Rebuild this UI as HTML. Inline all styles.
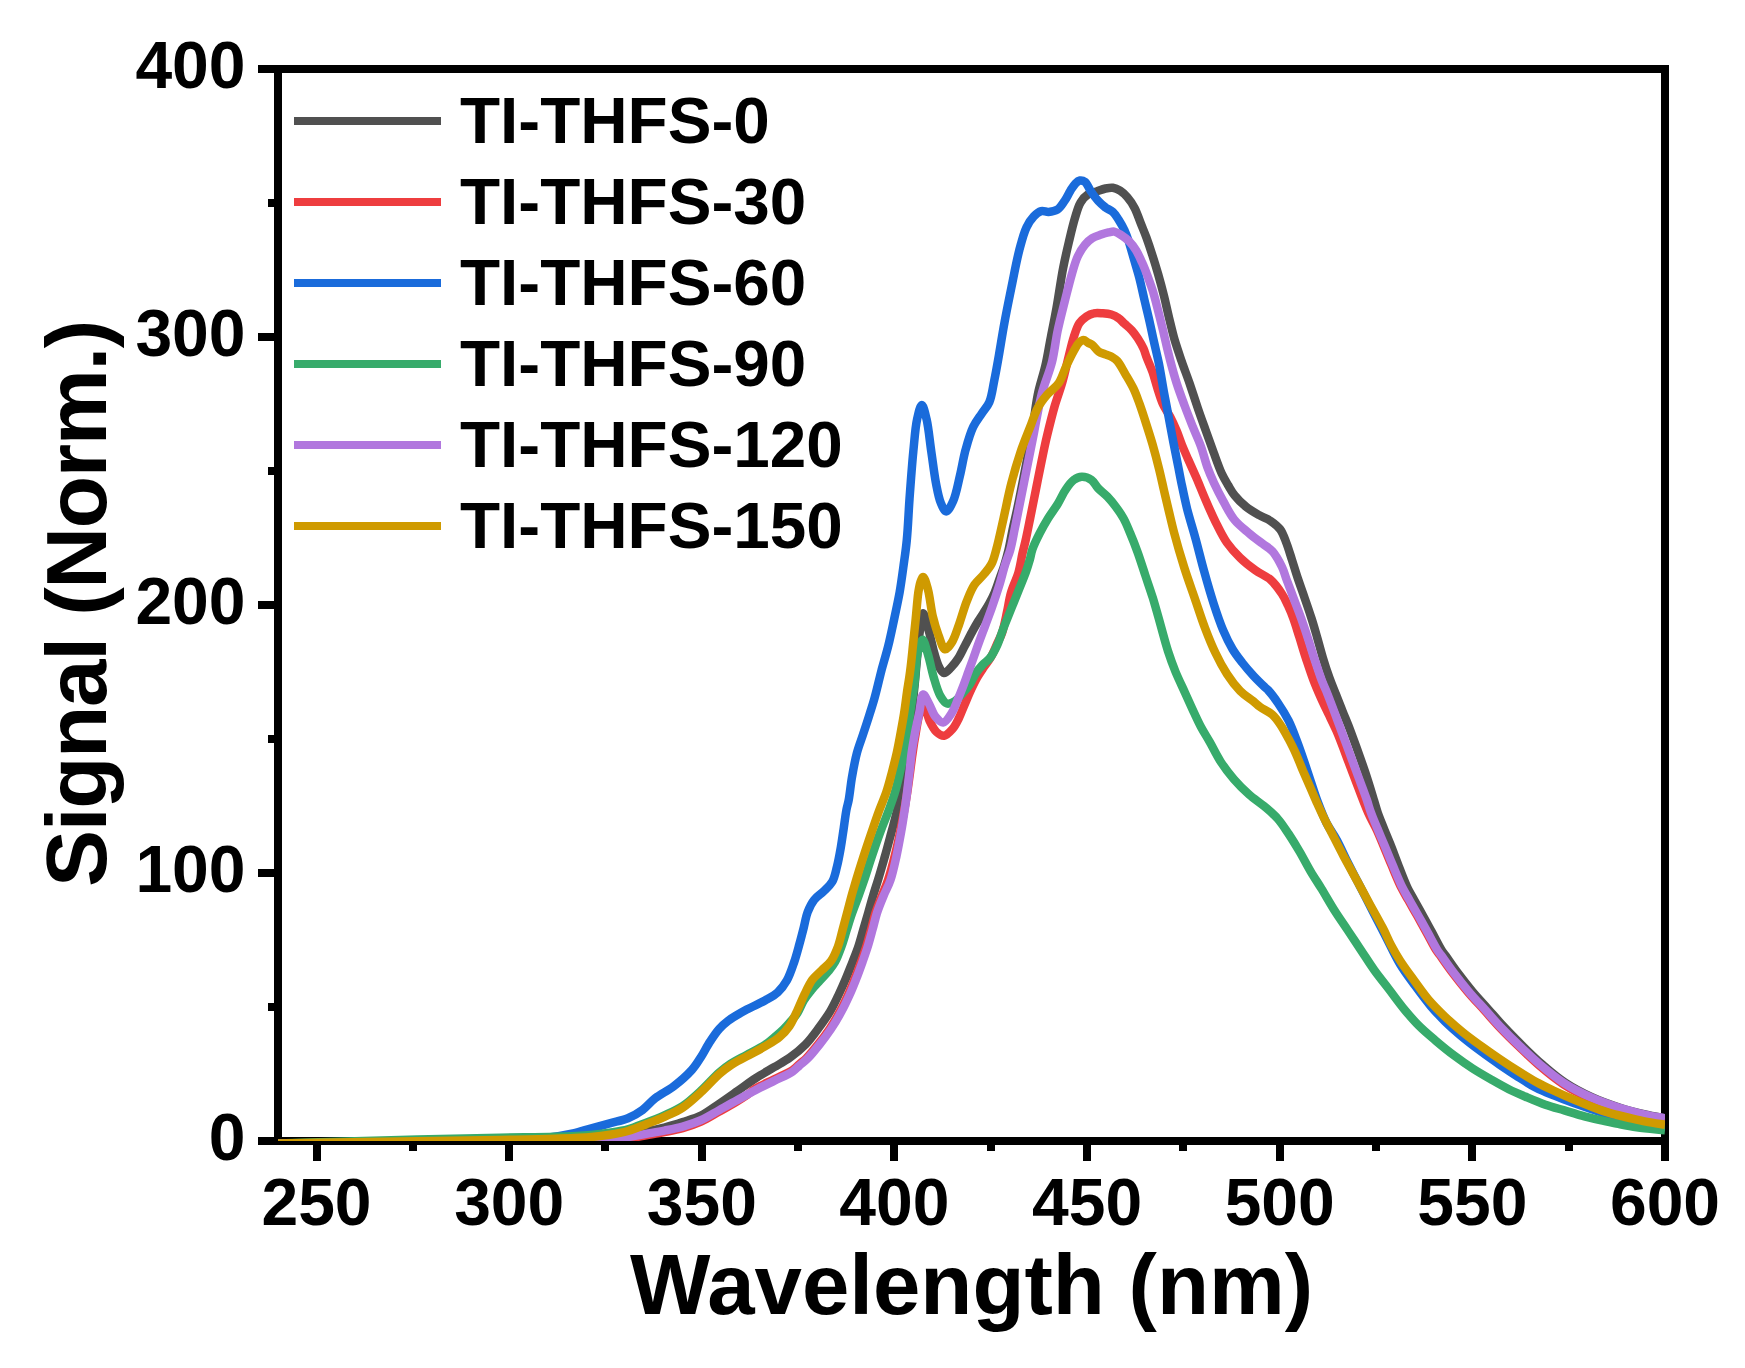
<!DOCTYPE html>
<html lang="en">
<head>
<meta charset="utf-8">
<title>Signal vs Wavelength</title>
<style>
html,body{margin:0;padding:0;background:#fff;}
svg{display:block;}
text{font-family:"Liberation Sans",Arial,Helvetica,sans-serif;font-weight:bold;fill:#000;}
</style>
</head>
<body>
<svg width="1745" height="1368" viewBox="0 0 1745 1368">
<rect x="0" y="0" width="1745" height="1368" fill="#ffffff"/>
<defs><clipPath id="plot"><rect x="278" y="69" width="1387" height="1072"/></clipPath></defs>
<g stroke="#000" stroke-width="8" fill="none" shape-rendering="crispEdges">
<rect x="278" y="69" width="1387" height="1072"/>
<line x1="258" y1="1141.0" x2="278" y2="1141.0"/>
<line x1="268" y1="1007.0" x2="278" y2="1007.0"/>
<line x1="258" y1="873.0" x2="278" y2="873.0"/>
<line x1="268" y1="739.0" x2="278" y2="739.0"/>
<line x1="258" y1="605.0" x2="278" y2="605.0"/>
<line x1="268" y1="471.0" x2="278" y2="471.0"/>
<line x1="258" y1="337.0" x2="278" y2="337.0"/>
<line x1="268" y1="203.0" x2="278" y2="203.0"/>
<line x1="258" y1="69.0" x2="278" y2="69.0"/>
<line x1="317.0" y1="1141" x2="317.0" y2="1161"/>
<line x1="413.0" y1="1141" x2="413.0" y2="1151"/>
<line x1="509.0" y1="1141" x2="509.0" y2="1161"/>
<line x1="605.0" y1="1141" x2="605.0" y2="1151"/>
<line x1="702.0" y1="1141" x2="702.0" y2="1161"/>
<line x1="798.0" y1="1141" x2="798.0" y2="1151"/>
<line x1="894.0" y1="1141" x2="894.0" y2="1161"/>
<line x1="991.0" y1="1141" x2="991.0" y2="1151"/>
<line x1="1087.0" y1="1141" x2="1087.0" y2="1161"/>
<line x1="1183.0" y1="1141" x2="1183.0" y2="1151"/>
<line x1="1280.0" y1="1141" x2="1280.0" y2="1161"/>
<line x1="1376.0" y1="1141" x2="1376.0" y2="1151"/>
<line x1="1472.0" y1="1141" x2="1472.0" y2="1161"/>
<line x1="1569.0" y1="1141" x2="1569.0" y2="1151"/>
<line x1="1665.0" y1="1141" x2="1665.0" y2="1161"/>
</g>
<g clip-path="url(#plot)" fill="none" stroke-width="8.5" stroke-linejoin="round" stroke-linecap="butt">
<path stroke="#505050" d="M278.0 1143.5 C352.0 1143.3 442.2 1143.9 500.0 1143.0 C537.1 1142.5 572.6 1141.9 591.4 1140.5 C599.8 1139.9 603.5 1139.1 609.6 1138.3 C615.7 1137.5 621.8 1136.6 627.9 1135.5 C634.0 1134.4 640.1 1132.8 646.2 1131.5 C652.3 1130.2 658.4 1129.1 664.4 1127.5 C670.5 1125.9 676.6 1124.0 682.7 1122.0 C688.8 1120.0 695.1 1118.5 701.0 1115.6 C707.3 1112.5 713.2 1107.8 719.3 1103.7 C725.4 1099.6 731.4 1095.3 737.5 1091.0 C743.6 1086.7 749.6 1082.1 755.8 1078.1 C761.8 1074.2 768.2 1070.7 774.1 1067.2 C779.6 1063.9 784.9 1061.2 790.0 1057.5 C795.3 1053.7 800.8 1049.3 805.5 1044.5 C810.1 1039.8 814.0 1034.4 818.0 1029.0 C822.1 1023.4 826.5 1017.4 830.0 1011.6 C833.3 1006.1 835.8 1000.5 838.5 995.0 C841.1 989.6 843.5 984.2 845.8 978.7 C848.1 973.2 850.3 967.5 852.5 962.0 C854.6 956.6 856.8 951.3 858.6 945.8 C860.4 940.3 861.9 934.5 863.5 929.0 C865.1 923.6 866.6 918.3 868.2 912.9 C869.8 907.3 871.3 901.5 873.0 896.0 C874.6 890.6 876.2 885.9 878.0 880.0 C880.2 872.8 882.7 864.0 885.0 856.0 C887.3 847.9 889.6 839.0 891.6 831.6 C893.2 825.5 894.7 820.4 896.0 815.0 C897.3 809.9 898.3 805.0 899.5 800.0 C900.7 795.0 902.1 790.2 903.0 785.0 C904.0 779.5 904.2 774.4 905.0 768.0 C906.1 759.8 907.8 749.4 909.0 740.0 C910.2 730.4 911.0 720.6 912.0 711.0 C913.0 701.6 913.9 692.3 914.8 683.0 C915.7 673.7 916.4 664.1 917.3 655.0 C918.1 646.4 918.9 637.5 920.0 630.0 C920.9 623.8 921.8 613.3 923.2 613.2 C924.7 613.1 927.1 624.9 928.9 631.3 C930.9 638.4 932.6 647.6 934.6 654.1 C936.1 659.2 937.4 664.0 939.3 667.4 C940.7 669.9 942.3 672.9 944.1 673.1 C946.1 673.3 948.8 669.7 951.0 667.5 C953.5 664.9 956.0 661.8 958.2 658.4 C960.7 654.6 962.7 649.8 965.0 645.5 C967.3 641.1 969.7 636.3 972.0 632.1 C974.0 628.3 976.0 624.9 978.0 621.5 C979.9 618.3 981.9 615.5 983.8 612.4 C985.7 609.3 987.7 606.3 989.5 603.0 C991.3 599.7 993.0 596.3 994.6 592.6 C996.4 588.4 997.9 583.5 999.5 579.0 C1001.0 574.7 1002.6 570.8 1004.0 566.3 C1005.6 561.2 1007.1 555.7 1008.5 550.0 C1010.0 543.7 1011.1 536.8 1012.5 530.0 C1014.0 523.0 1015.6 516.8 1017.3 508.6 C1019.6 497.8 1022.4 483.3 1024.9 470.6 C1027.3 457.9 1029.8 445.3 1032.0 432.6 C1034.1 420.0 1035.4 406.3 1037.8 394.6 C1039.9 384.3 1043.1 375.6 1045.3 366.0 C1047.5 356.5 1048.9 347.1 1050.8 337.5 C1052.7 327.8 1054.6 318.6 1056.5 308.0 C1058.7 295.7 1060.8 280.1 1063.1 268.2 C1065.0 258.5 1066.9 250.4 1068.9 241.9 C1070.8 233.9 1072.7 225.5 1074.8 218.5 C1076.6 212.6 1078.0 206.6 1080.6 202.4 C1082.7 199.0 1085.2 196.2 1088.0 194.4 C1090.6 192.7 1093.8 192.4 1096.7 191.4 C1099.6 190.4 1102.7 189.1 1105.5 188.5 C1108.0 188.0 1110.4 187.5 1112.8 187.8 C1115.3 188.2 1117.8 189.3 1120.1 190.7 C1122.7 192.3 1125.1 194.7 1127.4 197.3 C1130.0 200.3 1132.6 204.2 1134.7 208.2 C1137.0 212.6 1138.6 218.0 1140.6 222.9 C1142.5 227.8 1144.5 232.4 1146.4 237.5 C1148.4 243.0 1150.4 249.0 1152.3 255.0 C1154.3 261.2 1156.2 267.4 1158.1 274.0 C1160.1 281.0 1162.2 288.7 1164.0 296.0 C1165.8 303.3 1167.3 310.6 1169.1 317.9 C1170.9 325.2 1172.5 332.6 1174.6 339.8 C1176.7 346.9 1179.1 353.8 1181.5 360.9 C1184.0 368.3 1187.0 375.8 1189.6 383.4 C1192.3 391.3 1194.9 399.6 1197.6 407.5 C1200.2 415.2 1202.9 422.6 1205.6 430.1 C1208.3 437.6 1211.0 445.3 1213.7 452.6 C1216.3 459.7 1219.0 467.6 1221.7 473.5 C1223.8 478.0 1225.8 481.3 1228.0 485.0 C1230.1 488.5 1231.8 491.9 1234.5 495.2 C1237.6 499.1 1241.8 503.3 1245.9 506.6 C1250.0 509.9 1254.9 512.7 1259.2 515.2 C1263.1 517.4 1267.1 518.5 1270.6 520.9 C1274.1 523.3 1277.6 525.9 1280.2 529.4 C1282.9 533.1 1284.4 537.9 1286.3 542.7 C1288.4 548.0 1290.1 554.1 1292.0 560.0 C1294.0 566.2 1295.9 572.6 1298.0 578.9 C1300.2 585.4 1302.6 591.9 1304.8 598.5 C1307.1 605.1 1309.4 611.8 1311.5 618.4 C1313.6 624.9 1315.4 631.4 1317.3 638.0 C1319.2 644.6 1320.9 651.3 1322.9 657.9 C1324.9 664.6 1327.3 671.9 1329.5 678.0 C1331.3 683.1 1333.0 687.0 1335.0 692.0 C1337.3 697.9 1339.9 704.6 1342.5 711.0 C1345.1 717.6 1347.5 723.0 1350.5 730.9 C1354.7 742.1 1360.9 759.5 1365.1 771.9 C1368.5 782.1 1371.6 792.4 1373.9 800.0 C1375.5 805.1 1376.2 808.3 1377.8 812.8 C1379.7 818.1 1382.4 824.6 1384.5 830.0 C1386.5 834.9 1388.2 838.8 1390.2 843.9 C1392.7 850.1 1395.4 857.6 1398.2 864.7 C1401.1 872.2 1404.5 881.3 1407.5 887.7 C1409.8 892.5 1411.8 895.6 1414.2 900.0 C1417.0 905.0 1420.2 910.7 1423.1 916.0 C1426.0 921.2 1428.7 926.2 1431.6 931.6 C1434.8 937.5 1438.9 945.8 1441.5 950.0 C1443.0 952.4 1443.7 953.0 1445.4 955.3 C1448.4 959.5 1453.5 967.2 1458.0 973.1 C1462.6 979.2 1467.4 985.4 1472.4 991.4 C1477.6 997.6 1483.3 1003.6 1488.7 1009.7 C1494.1 1015.8 1499.4 1022.0 1505.0 1028.0 C1510.8 1034.1 1516.7 1040.2 1522.9 1046.2 C1529.1 1052.4 1535.4 1058.5 1542.3 1064.5 C1549.6 1070.8 1557.1 1077.4 1565.4 1082.8 C1573.8 1088.4 1583.2 1093.2 1592.3 1097.4 C1601.1 1101.4 1610.1 1104.6 1619.2 1107.5 C1628.1 1110.4 1638.0 1112.8 1646.2 1114.7 C1653.0 1116.3 1658.7 1117.1 1665.0 1118.3"/>
<path stroke="#ee3d3f" d="M278.0 1143.5 C352.0 1143.5 442.2 1143.8 500.0 1143.5 C537.1 1143.3 572.6 1143.5 591.4 1142.5 C599.8 1142.1 603.5 1141.5 609.6 1140.8 C615.7 1140.1 621.8 1139.4 627.9 1138.5 C634.0 1137.6 640.1 1136.5 646.2 1135.4 C652.3 1134.3 658.3 1133.3 664.4 1132.1 C670.5 1130.9 676.7 1129.8 682.7 1128.1 C688.9 1126.4 695.0 1124.4 701.0 1121.7 C707.2 1118.9 713.2 1115.0 719.3 1111.6 C725.4 1108.1 732.4 1104.1 737.5 1101.0 C741.2 1098.8 743.9 1097.1 747.0 1095.0 C750.0 1092.9 752.2 1090.7 755.8 1088.5 C760.7 1085.5 768.0 1082.4 774.1 1079.4 C780.2 1076.3 787.8 1073.3 792.4 1070.2 C795.5 1068.1 797.2 1065.9 799.6 1063.9 C801.8 1062.0 803.7 1060.9 806.1 1058.5 C809.6 1055.0 814.1 1049.4 818.0 1044.5 C822.0 1039.5 825.9 1034.4 829.5 1029.0 C833.2 1023.5 836.8 1017.4 839.9 1011.6 C842.9 1006.1 845.5 1000.5 848.0 995.0 C850.5 989.6 852.6 984.2 854.8 978.7 C857.0 973.2 859.0 967.5 861.0 962.0 C862.9 956.6 864.8 951.3 866.5 945.8 C868.2 940.3 869.7 934.5 871.2 929.0 C872.7 923.6 873.8 918.3 875.5 912.9 C877.3 907.3 879.7 901.5 881.8 896.0 C883.9 890.6 886.0 885.9 888.0 880.0 C890.4 872.9 892.7 864.1 894.7 856.0 C896.8 847.9 898.6 839.4 900.2 831.6 C901.7 824.5 902.9 817.7 904.1 811.0 C905.3 804.6 906.3 798.5 907.3 792.1 C908.3 785.5 909.2 778.6 910.1 772.0 C911.0 765.5 911.7 759.1 912.7 752.6 C913.6 746.1 914.6 739.5 915.8 733.0 C916.9 726.4 917.9 718.2 919.7 713.2 C920.9 709.9 922.6 705.4 924.0 705.5 C925.9 705.7 927.3 716.0 929.5 720.6 C931.5 724.8 933.7 729.4 936.5 732.0 C938.7 734.0 941.6 736.1 944.1 735.8 C946.9 735.5 950.1 731.7 952.5 729.0 C955.0 726.2 956.7 722.6 958.5 719.0 C960.5 715.0 962.1 710.4 964.0 706.0 C966.0 701.4 967.9 696.6 970.0 692.0 C972.1 687.4 974.4 682.5 976.8 678.2 C979.1 674.2 981.6 670.6 984.0 667.0 C986.3 663.5 988.9 660.7 991.0 657.0 C993.3 653.0 995.1 648.2 997.0 644.0 C998.7 640.2 1000.5 637.3 1002.0 633.0 C1004.0 627.2 1005.5 618.9 1007.0 612.0 C1008.5 605.4 1009.1 599.1 1011.0 592.6 C1012.9 585.8 1016.6 579.0 1018.5 572.3 C1020.3 565.9 1021.2 559.1 1022.5 553.3 C1023.6 548.5 1024.6 545.0 1025.7 540.0 C1027.1 533.6 1028.6 525.9 1030.2 518.1 C1032.0 509.2 1034.0 499.1 1035.9 489.6 C1037.8 480.1 1039.7 470.3 1041.6 461.1 C1043.4 452.5 1044.9 444.7 1047.0 436.0 C1049.3 426.4 1052.0 415.5 1054.7 406.0 C1057.2 397.4 1060.2 389.8 1062.5 381.5 C1064.9 373.1 1066.8 363.9 1068.8 356.0 C1070.5 349.2 1071.9 342.8 1073.8 337.0 C1075.5 332.0 1077.0 326.8 1079.4 323.2 C1081.4 320.3 1084.0 318.1 1086.5 316.4 C1088.8 314.9 1091.2 313.8 1093.8 313.3 C1096.5 312.7 1099.7 313.1 1102.6 313.3 C1105.5 313.5 1108.6 313.7 1111.3 314.5 C1113.9 315.3 1116.5 316.6 1118.7 318.2 C1120.9 319.7 1122.4 321.8 1124.5 323.7 C1126.8 325.8 1129.6 327.9 1131.8 330.3 C1134.1 332.8 1136.0 335.6 1137.9 338.5 C1139.9 341.6 1142.0 345.3 1143.5 348.6 C1144.8 351.5 1145.3 353.8 1146.5 357.0 C1148.1 361.3 1150.8 367.0 1152.6 372.2 C1154.4 377.4 1155.7 382.9 1157.4 388.2 C1159.1 393.6 1160.8 399.4 1163.0 404.3 C1165.0 408.8 1167.8 412.2 1170.0 416.5 C1172.4 421.1 1174.7 426.2 1176.7 431.0 C1178.7 435.7 1180.1 440.4 1182.0 445.0 C1183.9 449.7 1185.8 454.0 1188.0 459.0 C1190.6 464.9 1193.6 471.4 1196.5 478.0 C1199.6 485.3 1202.8 493.5 1206.0 500.9 C1209.1 508.1 1212.1 514.9 1215.5 521.8 C1219.0 528.8 1222.6 536.5 1226.9 542.7 C1230.9 548.4 1235.4 553.3 1240.2 557.9 C1244.9 562.5 1250.2 566.6 1255.4 570.3 C1260.4 573.9 1266.2 575.9 1270.6 579.8 C1275.1 583.8 1279.0 589.4 1282.0 594.0 C1284.6 597.9 1286.1 601.5 1288.0 605.5 C1289.9 609.6 1291.6 613.6 1293.3 618.4 C1295.4 624.1 1297.4 631.0 1299.5 637.5 C1301.6 644.2 1303.5 651.0 1305.8 657.9 C1308.2 665.1 1310.8 673.2 1313.4 680.0 C1315.7 686.1 1318.0 691.4 1320.5 697.0 C1323.0 702.7 1325.8 708.3 1328.5 714.0 C1331.2 719.6 1333.5 724.0 1336.5 730.9 C1341.1 741.5 1347.0 758.2 1352.3 771.9 C1357.6 785.5 1363.5 802.2 1368.2 812.8 C1371.3 819.8 1374.3 824.5 1376.8 830.0 C1379.0 834.8 1380.6 838.8 1382.7 843.9 C1385.3 850.1 1388.3 857.6 1391.3 864.7 C1394.5 872.2 1398.1 881.3 1401.3 887.7 C1403.7 892.5 1405.7 895.6 1408.2 900.0 C1411.0 905.0 1414.3 910.7 1417.3 916.0 C1420.2 921.2 1423.0 926.2 1426.0 931.6 C1429.3 937.5 1433.4 945.8 1436.1 950.0 C1437.6 952.4 1438.3 953.0 1440.0 955.3 C1443.0 959.5 1448.3 967.2 1452.8 973.1 C1457.4 979.2 1462.3 985.4 1467.4 991.4 C1472.6 997.6 1478.3 1003.6 1483.8 1009.7 C1489.3 1015.8 1494.6 1022.0 1500.3 1028.0 C1506.2 1034.2 1512.2 1040.1 1518.6 1046.2 C1525.4 1052.7 1532.5 1059.7 1539.9 1066.0 C1547.4 1072.4 1555.2 1078.9 1563.6 1084.3 C1572.2 1089.9 1581.8 1094.7 1591.1 1098.9 C1600.1 1102.9 1609.3 1106.1 1618.5 1109.0 C1627.6 1111.9 1637.6 1114.4 1645.9 1116.3 C1652.8 1117.9 1658.6 1118.7 1665.0 1119.9"/>
<path stroke="#1a6bdb" d="M278.0 1143.5 C318.7 1143.2 361.4 1143.1 400.0 1142.5 C435.0 1141.9 473.1 1140.9 500.0 1140.0 C518.2 1139.4 532.5 1139.4 545.7 1138.0 C556.0 1136.9 564.8 1135.3 573.0 1133.5 C579.8 1132.0 585.3 1130.0 591.4 1128.3 C597.5 1126.6 603.5 1125.0 609.6 1123.3 C615.7 1121.6 622.3 1120.6 627.9 1118.3 C633.2 1116.1 638.0 1113.3 642.5 1110.0 C647.1 1106.6 650.5 1101.9 655.3 1098.2 C660.7 1094.0 667.7 1090.9 673.6 1086.4 C679.9 1081.6 687.1 1075.3 691.9 1069.9 C695.8 1065.6 698.1 1061.6 701.0 1057.0 C704.1 1052.2 706.8 1046.4 710.0 1041.6 C713.0 1037.1 716.0 1032.4 719.3 1028.8 C722.2 1025.6 724.7 1023.4 728.4 1020.6 C733.3 1017.0 740.5 1013.0 746.7 1009.6 C752.7 1006.3 759.5 1003.6 765.0 1000.5 C769.7 997.8 774.0 995.7 777.7 992.3 C781.3 989.0 784.3 985.0 786.9 980.4 C789.9 975.1 792.1 968.1 794.2 962.0 C796.2 956.1 797.7 950.3 799.3 944.5 C800.9 938.8 802.4 932.9 803.8 927.4 C805.1 922.2 805.8 916.9 807.6 912.2 C809.3 907.7 811.4 903.3 814.2 899.8 C816.8 896.4 820.7 894.3 823.7 891.3 C826.7 888.3 830.1 885.5 832.3 881.7 C834.7 877.4 835.6 871.9 837.0 866.5 C838.5 860.6 839.7 853.8 840.8 847.5 C841.9 841.2 842.7 834.8 843.7 828.5 C844.6 822.2 845.5 814.7 846.5 809.5 C847.2 805.8 848.0 803.9 848.7 800.0 C849.8 794.1 850.6 785.3 851.9 777.6 C853.3 769.5 854.9 760.4 857.0 752.6 C858.9 745.6 861.4 739.6 863.5 733.0 C865.7 726.4 868.0 719.4 869.9 713.2 C871.6 707.8 873.0 703.8 874.6 697.9 C876.8 690.2 879.1 679.6 881.4 670.7 C883.7 662.1 886.3 653.9 888.4 645.3 C890.5 636.6 892.3 627.8 894.2 619.0 C896.1 610.2 898.0 601.4 899.6 592.6 C901.1 583.8 902.3 574.8 903.5 566.0 C904.7 557.3 905.9 549.7 906.8 540.0 C908.0 527.9 908.5 513.2 909.5 499.1 C910.6 483.9 911.9 465.9 913.3 451.6 C914.5 439.8 915.2 427.8 917.1 419.3 C918.4 413.5 920.2 405.0 921.8 405.0 C923.4 405.0 925.2 413.5 926.6 419.3 C928.6 427.8 929.7 440.8 931.3 451.6 C932.9 462.4 934.3 474.6 936.1 483.9 C937.5 491.1 938.7 497.9 940.8 502.9 C942.3 506.5 944.3 511.5 946.2 511.5 C948.4 511.5 951.2 505.4 953.2 501.0 C956.1 494.7 957.8 484.7 959.8 476.3 C961.9 467.6 963.3 458.2 965.6 449.7 C967.8 441.7 970.1 433.3 973.2 426.9 C975.7 421.7 978.9 417.8 981.7 413.6 C984.3 409.6 987.3 406.8 989.3 402.2 C991.8 396.5 992.6 388.6 994.1 381.3 C995.8 373.3 997.2 365.0 998.8 356.0 C1000.6 345.6 1002.4 333.8 1004.5 322.5 C1006.6 310.8 1009.1 298.9 1011.5 287.0 C1014.0 274.9 1016.4 261.3 1019.2 250.6 C1021.5 241.9 1023.5 233.5 1026.5 227.3 C1028.7 222.8 1031.2 219.1 1033.9 216.3 C1036.1 214.0 1038.6 211.9 1041.2 211.2 C1043.5 210.6 1046.0 212.1 1048.5 211.9 C1051.3 211.7 1054.7 211.3 1057.3 209.7 C1060.2 207.9 1062.4 204.0 1064.6 200.9 C1066.8 197.7 1068.5 193.8 1070.4 190.7 C1072.1 188.0 1073.7 185.2 1075.5 183.4 C1076.9 182.0 1078.3 180.8 1079.9 180.5 C1081.5 180.2 1083.4 180.7 1085.0 181.9 C1087.3 183.6 1088.7 188.3 1090.9 191.4 C1093.1 194.6 1095.6 198.1 1098.2 200.9 C1100.5 203.4 1103.0 205.6 1105.5 207.5 C1107.9 209.2 1110.7 210.0 1112.8 211.9 C1115.1 214.0 1116.8 217.0 1118.7 219.9 C1120.7 223.1 1122.8 226.6 1124.5 230.2 C1126.2 233.9 1127.5 237.6 1128.9 241.9 C1130.6 247.1 1132.3 253.6 1134.0 259.4 C1135.7 265.3 1137.5 270.8 1139.1 277.0 C1140.9 283.9 1142.5 291.6 1144.2 298.9 C1145.9 306.2 1147.8 313.6 1149.4 320.8 C1151.0 327.8 1152.3 334.5 1153.9 341.5 C1155.5 348.9 1157.4 356.2 1159.0 364.1 C1160.7 372.8 1162.2 382.5 1163.8 391.5 C1165.4 400.2 1167.1 408.6 1168.7 417.2 C1170.3 425.8 1171.9 434.5 1173.5 442.9 C1175.1 451.1 1176.9 460.0 1178.3 467.0 C1179.3 472.3 1179.9 475.6 1181.0 481.0 C1182.6 488.6 1184.7 499.1 1187.0 508.5 C1189.5 518.4 1192.8 528.6 1195.6 538.9 C1198.5 549.5 1201.1 560.5 1204.1 571.2 C1207.1 582.0 1210.3 593.3 1213.6 603.5 C1216.6 612.8 1219.7 622.1 1223.1 630.1 C1226.1 637.1 1229.2 643.5 1232.6 649.2 C1235.6 654.2 1238.7 658.1 1242.1 662.5 C1245.6 667.0 1249.6 671.6 1253.5 675.8 C1257.2 679.8 1262.3 684.7 1264.9 687.2 C1266.2 688.5 1266.7 688.6 1268.0 690.0 C1270.5 692.7 1274.9 698.5 1278.2 703.3 C1281.8 708.6 1285.5 714.5 1288.6 720.7 C1291.8 727.1 1294.4 734.3 1297.0 741.2 C1299.6 748.0 1301.9 754.8 1304.2 761.6 C1306.5 768.4 1308.7 775.3 1311.0 782.1 C1313.3 788.9 1315.4 795.8 1318.0 802.6 C1320.6 809.5 1323.3 816.6 1326.5 823.0 C1329.6 829.0 1333.5 833.9 1336.8 840.0 C1340.5 846.8 1343.7 854.5 1347.5 862.0 C1351.6 870.1 1356.2 878.9 1360.4 887.0 C1364.4 894.7 1368.0 901.9 1372.0 909.7 C1376.2 917.9 1380.5 926.3 1385.0 935.0 C1389.8 944.3 1394.7 955.3 1400.0 964.1 C1404.7 972.0 1409.8 978.5 1415.0 985.5 C1420.2 992.6 1425.7 1000.1 1431.0 1006.4 C1435.7 1011.9 1440.2 1016.6 1445.0 1021.4 C1449.8 1026.1 1454.5 1030.3 1460.0 1035.0 C1466.3 1040.3 1474.1 1046.3 1481.0 1051.4 C1487.4 1056.2 1493.7 1060.6 1500.0 1064.9 C1506.0 1069.0 1512.0 1073.0 1518.0 1076.8 C1524.0 1080.6 1529.8 1084.6 1536.0 1087.8 C1542.1 1091.0 1548.7 1093.4 1555.0 1095.9 C1561.1 1098.4 1567.0 1100.6 1573.0 1102.8 C1579.0 1104.9 1584.9 1106.9 1591.0 1109.0 C1597.2 1111.0 1603.7 1113.3 1610.0 1115.1 C1616.0 1116.8 1622.0 1118.1 1628.0 1119.4 C1634.0 1120.8 1639.9 1122.2 1646.0 1123.3 C1652.2 1124.4 1658.7 1125.2 1665.0 1126.2"/>
<path stroke="#37ab6b" d="M278.0 1143.5 C318.7 1142.3 361.4 1141.0 400.0 1140.0 C435.0 1139.1 471.6 1138.3 500.0 1137.7 C521.0 1137.3 538.4 1137.3 554.8 1136.8 C568.2 1136.4 581.3 1135.9 591.4 1135.0 C598.5 1134.4 603.5 1133.7 609.6 1132.8 C615.7 1131.8 621.9 1131.0 627.9 1129.3 C634.1 1127.6 640.1 1125.0 646.2 1122.7 C652.3 1120.4 658.4 1118.0 664.4 1115.3 C670.5 1112.5 676.8 1110.0 682.7 1106.1 C689.1 1101.9 695.0 1096.2 701.0 1090.7 C707.2 1085.0 713.8 1077.3 719.3 1072.5 C723.3 1069.0 726.1 1066.8 730.2 1064.1 C735.0 1060.9 741.1 1058.0 746.7 1054.9 C752.6 1051.6 759.8 1048.4 765.0 1044.9 C769.3 1042.0 772.7 1038.8 776.0 1036.0 C778.9 1033.6 781.3 1031.5 783.8 1029.0 C786.3 1026.5 788.7 1023.7 791.0 1021.0 C793.3 1018.4 795.5 1016.1 797.5 1013.0 C799.9 1009.3 801.6 1003.9 804.0 1000.0 C806.2 996.4 808.8 993.3 811.4 990.1 C814.1 986.8 817.1 983.7 820.0 980.5 C822.8 977.3 825.9 974.3 828.5 971.1 C830.9 968.1 833.0 965.6 835.0 962.0 C837.5 957.5 839.7 951.3 841.7 945.8 C843.7 940.3 845.2 934.5 847.0 929.0 C848.7 923.6 850.3 918.3 852.2 912.9 C854.1 907.3 856.5 901.6 858.5 896.0 C860.5 890.6 862.2 885.9 864.2 880.0 C866.6 872.8 869.3 864.0 872.0 856.0 C874.7 847.9 877.6 839.4 880.5 831.6 C883.1 824.4 886.0 817.7 888.5 811.0 C890.8 804.6 893.1 798.5 895.0 792.1 C896.9 785.5 898.5 778.7 900.0 772.0 C901.5 765.5 903.0 759.1 904.2 752.6 C905.4 746.1 906.3 739.6 907.3 733.0 C908.3 726.4 909.0 720.5 910.1 713.2 C911.4 704.1 913.4 692.6 914.6 682.6 C915.8 672.9 915.7 661.9 917.5 654.1 C918.8 648.4 920.9 639.8 922.6 639.8 C924.3 639.8 926.2 648.7 927.9 654.1 C930.0 660.8 931.4 669.7 933.6 676.9 C935.6 683.6 937.6 691.2 940.3 695.9 C942.2 699.2 944.3 702.8 946.9 703.5 C949.3 704.2 952.6 702.5 955.0 701.0 C957.6 699.4 959.7 696.6 962.0 694.0 C964.6 691.2 967.4 688.1 969.7 684.7 C972.1 681.1 973.7 676.4 976.0 673.0 C978.0 670.0 980.2 667.5 982.5 665.0 C984.8 662.5 987.7 660.9 990.0 658.0 C992.7 654.6 995.1 649.9 997.2 645.3 C999.5 640.4 1000.9 634.9 1003.0 629.4 C1005.3 623.3 1008.1 616.7 1010.6 610.3 C1013.1 604.0 1015.7 597.6 1018.2 591.3 C1020.7 585.0 1023.7 578.1 1025.8 572.3 C1027.5 567.5 1028.8 563.1 1030.0 559.0 C1031.0 555.4 1031.2 552.6 1032.5 549.0 C1034.2 544.3 1037.1 538.4 1039.7 533.3 C1042.3 528.2 1045.0 523.4 1048.0 518.5 C1051.0 513.6 1054.7 508.9 1057.7 504.0 C1060.6 499.3 1062.8 493.8 1065.7 489.6 C1068.2 485.9 1070.8 482.1 1073.8 479.9 C1076.3 478.1 1079.0 476.8 1081.8 476.7 C1084.9 476.6 1088.8 478.0 1091.5 479.9 C1094.2 481.8 1095.4 485.3 1097.9 488.0 C1100.7 491.0 1104.5 493.7 1107.5 496.8 C1110.4 499.9 1113.0 503.0 1115.6 506.5 C1118.4 510.2 1121.2 514.2 1123.6 518.5 C1126.1 523.0 1127.9 527.8 1130.1 533.0 C1132.6 538.9 1135.2 545.5 1137.6 552.2 C1140.2 559.4 1142.7 567.4 1145.2 575.0 C1147.7 582.6 1150.3 589.9 1152.8 597.8 C1155.4 606.3 1157.9 615.5 1160.4 624.4 C1162.9 633.3 1165.3 642.8 1168.0 651.1 C1170.4 658.5 1172.8 665.1 1175.6 672.0 C1178.5 679.0 1181.9 685.9 1185.1 692.9 C1188.3 699.9 1191.7 707.6 1194.6 713.8 C1196.9 718.7 1198.6 722.5 1201.0 727.0 C1203.6 731.9 1206.7 736.6 1209.7 741.9 C1213.2 748.0 1216.6 755.4 1220.7 761.7 C1224.7 767.9 1229.1 773.7 1233.9 779.2 C1238.6 784.7 1243.9 789.9 1249.2 794.6 C1254.2 799.0 1259.8 802.5 1264.6 806.6 C1269.2 810.5 1273.7 814.2 1277.7 818.7 C1281.8 823.3 1285.1 828.7 1288.7 834.0 C1292.4 839.6 1296.0 845.5 1299.6 851.6 C1303.3 857.9 1306.9 865.0 1310.6 871.3 C1314.2 877.4 1317.8 882.7 1321.6 888.9 C1325.8 895.8 1330.2 903.7 1334.7 910.8 C1339.0 917.6 1343.5 923.9 1347.9 930.5 C1352.3 937.1 1356.7 943.7 1361.1 950.3 C1365.5 956.9 1369.7 963.7 1374.2 970.0 C1378.6 976.2 1383.2 981.7 1388.0 988.0 C1393.3 994.9 1399.1 1003.1 1404.6 1009.7 C1409.5 1015.6 1414.0 1020.9 1419.2 1026.1 C1424.4 1031.3 1430.0 1035.9 1435.7 1040.7 C1441.6 1045.7 1447.8 1050.8 1454.0 1055.4 C1460.0 1059.9 1466.1 1064.2 1472.3 1068.2 C1478.3 1072.1 1484.4 1075.6 1490.5 1079.1 C1496.6 1082.6 1502.6 1086.1 1508.8 1089.2 C1514.8 1092.2 1521.0 1094.8 1527.1 1097.4 C1533.2 1100.0 1539.3 1102.6 1545.4 1104.7 C1551.4 1106.8 1557.5 1108.4 1563.6 1110.2 C1569.7 1112.0 1575.8 1114.0 1581.9 1115.7 C1588.0 1117.4 1594.1 1118.8 1600.2 1120.2 C1606.3 1121.6 1612.4 1122.7 1618.5 1123.9 C1624.6 1125.1 1630.0 1126.2 1636.8 1127.2 C1645.2 1128.4 1655.6 1129.3 1665.0 1130.3"/>
<path stroke="#b177de" d="M278.0 1143.5 C352.0 1143.3 449.4 1143.4 500.0 1143.0 C526.3 1142.8 543.2 1142.7 560.0 1142.3 C572.1 1142.0 582.4 1141.8 591.4 1141.2 C598.3 1140.7 603.5 1140.0 609.6 1139.3 C615.7 1138.6 621.8 1137.9 627.9 1137.0 C634.0 1136.1 640.1 1135.0 646.2 1133.9 C652.3 1132.8 658.3 1131.8 664.4 1130.6 C670.5 1129.4 676.7 1128.3 682.7 1126.6 C688.9 1124.9 695.0 1122.9 701.0 1120.2 C707.2 1117.4 713.2 1113.5 719.3 1110.1 C725.4 1106.7 731.4 1103.3 737.5 1100.0 C743.6 1096.6 749.7 1093.2 755.8 1090.0 C761.9 1086.8 768.0 1083.9 774.1 1080.9 C780.2 1077.8 787.8 1074.8 792.4 1071.7 C795.5 1069.6 797.1 1067.5 799.6 1065.4 C802.2 1063.1 804.8 1061.3 807.6 1058.5 C811.3 1054.8 815.6 1049.4 819.5 1044.5 C823.5 1039.5 827.4 1034.4 831.0 1029.0 C834.7 1023.5 838.3 1017.4 841.4 1011.6 C844.4 1006.1 847.0 1000.5 849.5 995.0 C852.0 989.6 854.1 984.2 856.3 978.7 C858.5 973.2 860.5 967.5 862.5 962.0 C864.4 956.6 866.3 951.3 868.0 945.8 C869.7 940.3 871.2 934.5 872.7 929.0 C874.2 923.6 875.3 918.3 877.0 912.9 C878.8 907.3 881.2 901.5 883.5 896.0 C885.7 890.6 888.5 886.0 890.5 880.0 C892.9 872.9 894.7 864.1 896.5 856.0 C898.3 847.9 899.8 839.4 901.2 831.6 C902.5 824.5 903.5 817.7 904.5 811.0 C905.5 804.6 906.3 798.5 907.1 792.1 C907.9 785.5 908.7 778.6 909.5 772.0 C910.3 765.5 910.8 759.1 911.7 752.6 C912.6 746.1 913.8 739.5 915.0 733.0 C916.3 726.4 917.8 719.7 919.2 713.2 C920.5 706.9 921.2 694.8 923.2 694.4 C924.7 694.1 927.0 700.1 928.9 703.5 C931.1 707.5 932.8 713.5 935.5 716.8 C937.7 719.4 940.6 722.7 943.1 722.5 C946.0 722.2 949.3 716.7 951.7 713.0 C954.3 709.0 956.0 703.7 958.0 699.0 C960.0 694.3 961.9 689.4 963.7 684.7 C965.4 680.2 966.9 675.9 968.5 671.5 C970.1 667.1 971.7 662.8 973.3 658.4 C974.9 654.0 976.4 649.4 978.0 645.0 C979.6 640.7 981.0 637.0 982.8 632.1 C985.3 625.4 988.8 616.2 991.6 608.4 C994.3 600.7 996.9 593.0 999.2 585.6 C1001.4 578.6 1003.0 571.3 1005.0 565.0 C1006.7 559.6 1008.7 555.4 1010.2 550.0 C1011.9 543.9 1013.1 536.8 1014.5 530.0 C1016.0 523.0 1017.2 516.8 1018.8 508.6 C1021.0 497.7 1023.9 483.3 1026.4 470.6 C1028.9 457.9 1031.5 445.3 1034.0 432.6 C1036.5 419.9 1038.5 406.7 1041.6 394.6 C1044.5 383.2 1049.3 372.8 1052.0 362.0 C1054.6 351.6 1055.5 341.1 1057.6 331.0 C1059.7 321.1 1062.2 311.6 1064.6 302.0 C1067.0 292.6 1069.5 282.2 1071.9 274.0 C1073.8 267.4 1075.3 261.6 1077.7 256.5 C1079.8 252.1 1082.3 248.0 1085.0 244.8 C1087.3 242.1 1089.6 239.9 1092.3 238.2 C1095.0 236.5 1098.3 235.6 1101.1 234.6 C1103.6 233.7 1106.1 232.9 1108.4 232.4 C1110.5 232.0 1112.3 231.3 1114.3 231.6 C1116.7 232.0 1119.2 233.8 1121.6 235.3 C1124.1 236.9 1126.6 238.8 1128.9 241.1 C1131.5 243.7 1134.1 247.2 1136.2 250.6 C1138.4 254.2 1140.1 258.1 1142.0 262.3 C1144.1 266.9 1146.1 272.1 1147.9 277.0 C1149.7 281.9 1151.4 286.4 1153.0 291.6 C1154.8 297.5 1156.4 304.1 1158.1 310.6 C1159.8 317.3 1161.6 324.4 1163.2 331.1 C1164.7 337.5 1166.3 344.7 1167.6 350.1 C1168.6 354.2 1169.2 356.7 1170.3 360.9 C1171.9 367.0 1174.3 375.9 1176.7 383.4 C1179.1 390.9 1182.0 398.6 1184.7 405.9 C1187.3 413.0 1190.1 420.0 1192.8 426.8 C1195.4 433.4 1198.4 439.5 1200.8 446.1 C1203.3 452.9 1205.0 460.5 1207.3 467.0 C1209.4 472.7 1211.5 477.6 1214.0 483.0 C1216.7 488.8 1219.8 494.9 1223.1 500.9 C1226.6 507.2 1230.0 514.4 1234.5 519.9 C1238.7 525.1 1244.2 529.1 1249.0 533.2 C1253.5 537.0 1258.3 540.5 1262.5 543.7 C1266.1 546.4 1269.5 548.0 1272.5 551.3 C1276.1 555.3 1279.6 562.0 1282.0 567.0 C1284.0 571.1 1284.7 574.5 1286.3 578.9 C1288.4 584.5 1291.1 591.5 1293.5 598.0 C1296.0 604.7 1298.8 611.6 1301.2 618.4 C1303.5 625.0 1305.7 631.4 1307.8 638.0 C1310.0 644.6 1311.9 651.1 1314.1 657.9 C1316.5 665.1 1319.3 673.9 1321.6 680.0 C1323.3 684.5 1324.5 686.5 1326.5 691.5 C1330.2 700.7 1336.4 717.6 1341.4 730.9 C1346.4 744.4 1351.9 759.5 1356.5 771.9 C1360.3 782.2 1364.3 792.4 1366.9 800.0 C1368.6 805.1 1369.3 808.3 1371.0 812.8 C1372.9 818.1 1375.7 824.6 1378.0 830.0 C1380.0 834.9 1381.8 838.8 1383.9 843.9 C1386.5 850.1 1389.5 857.6 1392.5 864.7 C1395.7 872.2 1399.3 881.3 1402.5 887.7 C1404.9 892.5 1406.9 895.6 1409.4 900.0 C1412.2 905.0 1415.5 910.7 1418.5 916.0 C1421.4 921.2 1424.2 926.2 1427.2 931.6 C1430.5 937.5 1434.6 945.8 1437.3 950.0 C1438.8 952.4 1439.5 953.0 1441.2 955.3 C1444.2 959.5 1449.5 967.2 1454.0 973.1 C1458.6 979.2 1463.5 985.4 1468.6 991.4 C1473.8 997.6 1479.5 1003.6 1485.0 1009.7 C1490.5 1015.8 1495.8 1022.0 1501.5 1028.0 C1507.4 1034.2 1513.5 1040.2 1519.8 1046.2 C1526.3 1052.4 1532.8 1058.5 1539.9 1064.5 C1547.4 1070.8 1555.2 1077.4 1563.6 1082.8 C1572.2 1088.4 1581.8 1093.2 1591.1 1097.4 C1600.1 1101.4 1609.3 1104.6 1618.5 1107.5 C1627.6 1110.4 1637.6 1112.9 1645.9 1114.8 C1652.8 1116.4 1658.6 1117.2 1665.0 1118.4"/>
<path stroke="#cf9a00" d="M278.0 1143.5 C318.7 1142.8 361.4 1142.1 400.0 1141.5 C435.0 1141.0 471.6 1140.5 500.0 1140.0 C521.0 1139.6 538.4 1139.4 554.8 1138.8 C568.2 1138.3 581.3 1137.9 591.4 1137.0 C598.5 1136.4 603.5 1135.8 609.6 1134.8 C615.7 1133.8 621.9 1132.7 627.9 1131.0 C634.1 1129.2 640.1 1126.6 646.2 1124.2 C652.3 1121.8 658.4 1119.5 664.4 1116.8 C670.5 1114.0 676.8 1111.5 682.7 1107.6 C689.1 1103.4 695.0 1097.7 701.0 1092.2 C707.2 1086.5 713.8 1078.8 719.3 1074.0 C723.3 1070.5 726.1 1068.3 730.2 1065.6 C735.0 1062.4 741.1 1059.5 746.7 1056.4 C752.6 1053.1 759.3 1049.8 765.0 1046.4 C770.2 1043.3 775.3 1040.6 779.5 1037.0 C783.4 1033.7 786.6 1030.2 789.5 1026.0 C792.6 1021.6 794.6 1016.2 797.1 1011.0 C799.7 1005.5 802.1 999.3 804.7 993.9 C807.1 988.9 809.3 983.8 812.3 979.7 C815.1 976.0 818.6 973.4 821.8 970.2 C825.0 967.0 828.7 964.4 831.3 960.6 C834.1 956.5 836.1 951.4 838.0 946.4 C840.0 941.0 841.2 934.9 842.7 929.3 C844.2 923.8 845.6 918.4 847.1 912.9 C848.6 907.3 850.0 901.5 851.5 896.0 C853.0 890.6 854.5 885.8 856.2 880.0 C858.2 873.2 860.5 865.7 863.0 858.0 C865.7 849.6 869.0 839.8 871.8 831.6 C874.3 824.3 876.5 817.7 879.0 811.0 C881.4 804.5 884.1 798.5 886.3 792.1 C888.5 785.6 890.2 778.7 892.0 772.0 C893.7 765.5 895.3 759.2 896.8 752.6 C898.3 745.9 899.6 738.7 900.8 732.0 C902.0 725.6 903.1 719.7 904.1 713.2 C905.2 706.4 906.0 699.0 907.0 692.0 C908.0 685.1 909.2 678.9 910.1 671.6 C911.2 663.3 912.1 653.8 913.0 645.0 C913.9 636.3 914.8 627.6 915.7 618.9 C916.6 610.2 917.3 599.4 918.3 592.6 C919.0 588.3 919.5 584.8 920.5 582.0 C921.2 580.0 922.3 576.9 923.2 577.0 C924.7 577.1 926.5 584.4 927.9 589.4 C929.9 596.5 930.8 607.9 932.7 616.0 C934.4 622.9 936.2 629.2 938.4 635.0 C940.4 640.2 942.4 648.8 945.0 649.3 C947.0 649.7 949.7 645.7 951.7 642.7 C954.7 638.2 956.9 630.4 959.3 623.7 C961.9 616.5 964.1 607.7 966.9 600.8 C969.3 594.9 971.4 589.3 974.5 584.7 C977.2 580.6 981.1 577.8 984.0 574.2 C986.8 570.8 989.6 567.7 991.6 563.8 C993.8 559.6 994.7 555.2 996.3 549.5 C998.6 541.1 1001.2 528.8 1003.6 518.1 C1006.1 506.9 1008.3 495.1 1011.2 483.9 C1014.0 472.9 1017.3 461.6 1020.7 451.6 C1023.7 442.8 1027.2 434.6 1030.2 426.9 C1032.9 420.1 1034.7 413.5 1037.8 407.9 C1040.5 402.9 1043.8 398.7 1047.3 394.6 C1050.8 390.5 1055.6 387.7 1058.7 383.2 C1062.0 378.3 1063.7 371.5 1066.3 366.0 C1068.8 360.7 1071.5 355.1 1073.9 350.8 C1075.7 347.6 1077.3 344.3 1079.2 342.5 C1080.6 341.2 1082.1 340.0 1083.5 340.0 C1085.0 340.0 1086.5 341.9 1088.0 342.7 C1089.4 343.5 1090.8 343.8 1092.3 344.9 C1094.3 346.4 1096.2 349.9 1098.5 351.5 C1100.6 353.0 1103.2 353.5 1105.5 354.4 C1107.7 355.3 1110.0 355.9 1112.0 357.0 C1113.9 358.1 1115.5 359.0 1117.2 360.9 C1119.9 363.8 1122.6 369.4 1125.2 373.8 C1127.9 378.4 1130.9 383.2 1133.3 388.2 C1135.8 393.3 1137.6 398.7 1139.7 404.3 C1141.9 410.4 1144.0 417.0 1146.1 423.6 C1148.3 430.4 1150.5 437.3 1152.6 444.5 C1154.8 452.2 1157.1 460.9 1159.0 468.7 C1160.8 475.9 1162.2 482.6 1163.8 489.6 C1165.4 496.6 1167.0 503.4 1168.7 510.5 C1170.5 517.9 1172.0 524.7 1174.2 533.0 C1176.9 543.3 1180.7 556.3 1184.2 567.4 C1187.5 577.9 1191.1 587.7 1194.6 597.8 C1198.1 607.9 1201.4 618.6 1205.1 628.2 C1208.4 636.9 1211.7 645.2 1215.5 653.0 C1219.0 660.4 1222.7 667.4 1226.9 673.9 C1230.9 680.1 1235.5 686.2 1240.2 691.0 C1244.4 695.2 1249.9 698.5 1253.5 701.4 C1256.1 703.5 1257.4 705.0 1260.0 706.9 C1263.4 709.4 1268.8 711.5 1272.3 714.6 C1275.6 717.5 1277.9 721.0 1280.5 724.8 C1283.4 729.1 1286.1 734.3 1288.7 739.1 C1291.2 743.9 1293.5 748.4 1295.8 753.5 C1298.3 759.0 1300.6 765.2 1303.0 770.9 C1305.4 776.4 1307.8 781.8 1310.2 787.2 C1312.6 792.7 1314.9 798.2 1317.3 803.6 C1319.7 808.8 1322.2 814.3 1324.5 819.0 C1326.5 823.0 1327.9 825.6 1330.2 830.0 C1333.7 836.8 1339.0 847.5 1343.5 856.0 C1347.9 864.2 1352.3 872.1 1356.7 880.1 C1361.1 888.1 1365.4 896.2 1369.8 904.2 C1374.2 912.2 1379.2 921.0 1383.0 928.3 C1386.1 934.3 1388.1 939.6 1391.0 945.0 C1393.8 950.3 1396.5 955.1 1400.0 960.5 C1404.0 966.7 1409.1 973.5 1413.8 980.0 C1418.6 986.5 1423.2 993.4 1428.4 999.5 C1433.5 1005.5 1439.1 1011.0 1444.8 1016.5 C1450.6 1022.0 1456.9 1027.5 1463.1 1032.5 C1469.1 1037.4 1475.3 1041.8 1481.4 1046.2 C1487.5 1050.6 1493.6 1054.9 1499.7 1059.0 C1505.7 1063.1 1511.8 1067.1 1517.9 1070.9 C1524.0 1074.7 1530.0 1078.5 1536.2 1081.9 C1542.2 1085.2 1548.4 1088.1 1554.5 1091.0 C1560.6 1093.9 1566.7 1096.6 1572.8 1099.2 C1578.9 1101.8 1585.0 1104.2 1591.1 1106.5 C1597.2 1108.8 1603.2 1111.1 1609.3 1112.9 C1615.4 1114.7 1621.5 1116.0 1627.6 1117.5 C1633.7 1118.9 1639.7 1120.4 1645.9 1121.6 C1652.2 1122.8 1658.6 1123.7 1665.0 1124.7"/>
</g>
<g font-size="66">
<text x="245.5" y="1160.0" text-anchor="end">0</text>
<text x="245.5" y="892.0" text-anchor="end">100</text>
<text x="245.5" y="624.0" text-anchor="end">200</text>
<text x="245.5" y="356.0" text-anchor="end">300</text>
<text x="245.5" y="88.0" text-anchor="end">400</text>
<text x="316.5" y="1225" text-anchor="middle">250</text>
<text x="509.2" y="1225" text-anchor="middle">300</text>
<text x="701.8" y="1225" text-anchor="middle">350</text>
<text x="894.4" y="1225" text-anchor="middle">400</text>
<text x="1087.1" y="1225" text-anchor="middle">450</text>
<text x="1279.7" y="1225" text-anchor="middle">500</text>
<text x="1472.4" y="1225" text-anchor="middle">550</text>
<text x="1665.0" y="1225" text-anchor="middle">600</text>
</g>
<text x="971.5" y="1313.5" font-size="85.2" text-anchor="middle">Wavelength (nm)</text>
<text transform="translate(106.2 604) rotate(-90)" font-size="85.5" letter-spacing="-1.3" text-anchor="middle">Signal (Norm.)</text>
<g font-size="65.6">
<line x1="294" y1="121" x2="441" y2="121" stroke="#505050" stroke-width="8" shape-rendering="crispEdges"/>
<text x="460" y="143">TI-THFS-0</text>
<line x1="294" y1="202" x2="441" y2="202" stroke="#ee3d3f" stroke-width="8" shape-rendering="crispEdges"/>
<text x="460" y="224">TI-THFS-30</text>
<line x1="294" y1="283" x2="441" y2="283" stroke="#1a6bdb" stroke-width="8" shape-rendering="crispEdges"/>
<text x="460" y="305">TI-THFS-60</text>
<line x1="294" y1="364" x2="441" y2="364" stroke="#37ab6b" stroke-width="8" shape-rendering="crispEdges"/>
<text x="460" y="386">TI-THFS-90</text>
<line x1="294" y1="445" x2="441" y2="445" stroke="#b177de" stroke-width="8" shape-rendering="crispEdges"/>
<text x="460" y="467">TI-THFS-120</text>
<line x1="294" y1="526" x2="441" y2="526" stroke="#cf9a00" stroke-width="8" shape-rendering="crispEdges"/>
<text x="460" y="548">TI-THFS-150</text>
</g>
</svg>
</body>
</html>
